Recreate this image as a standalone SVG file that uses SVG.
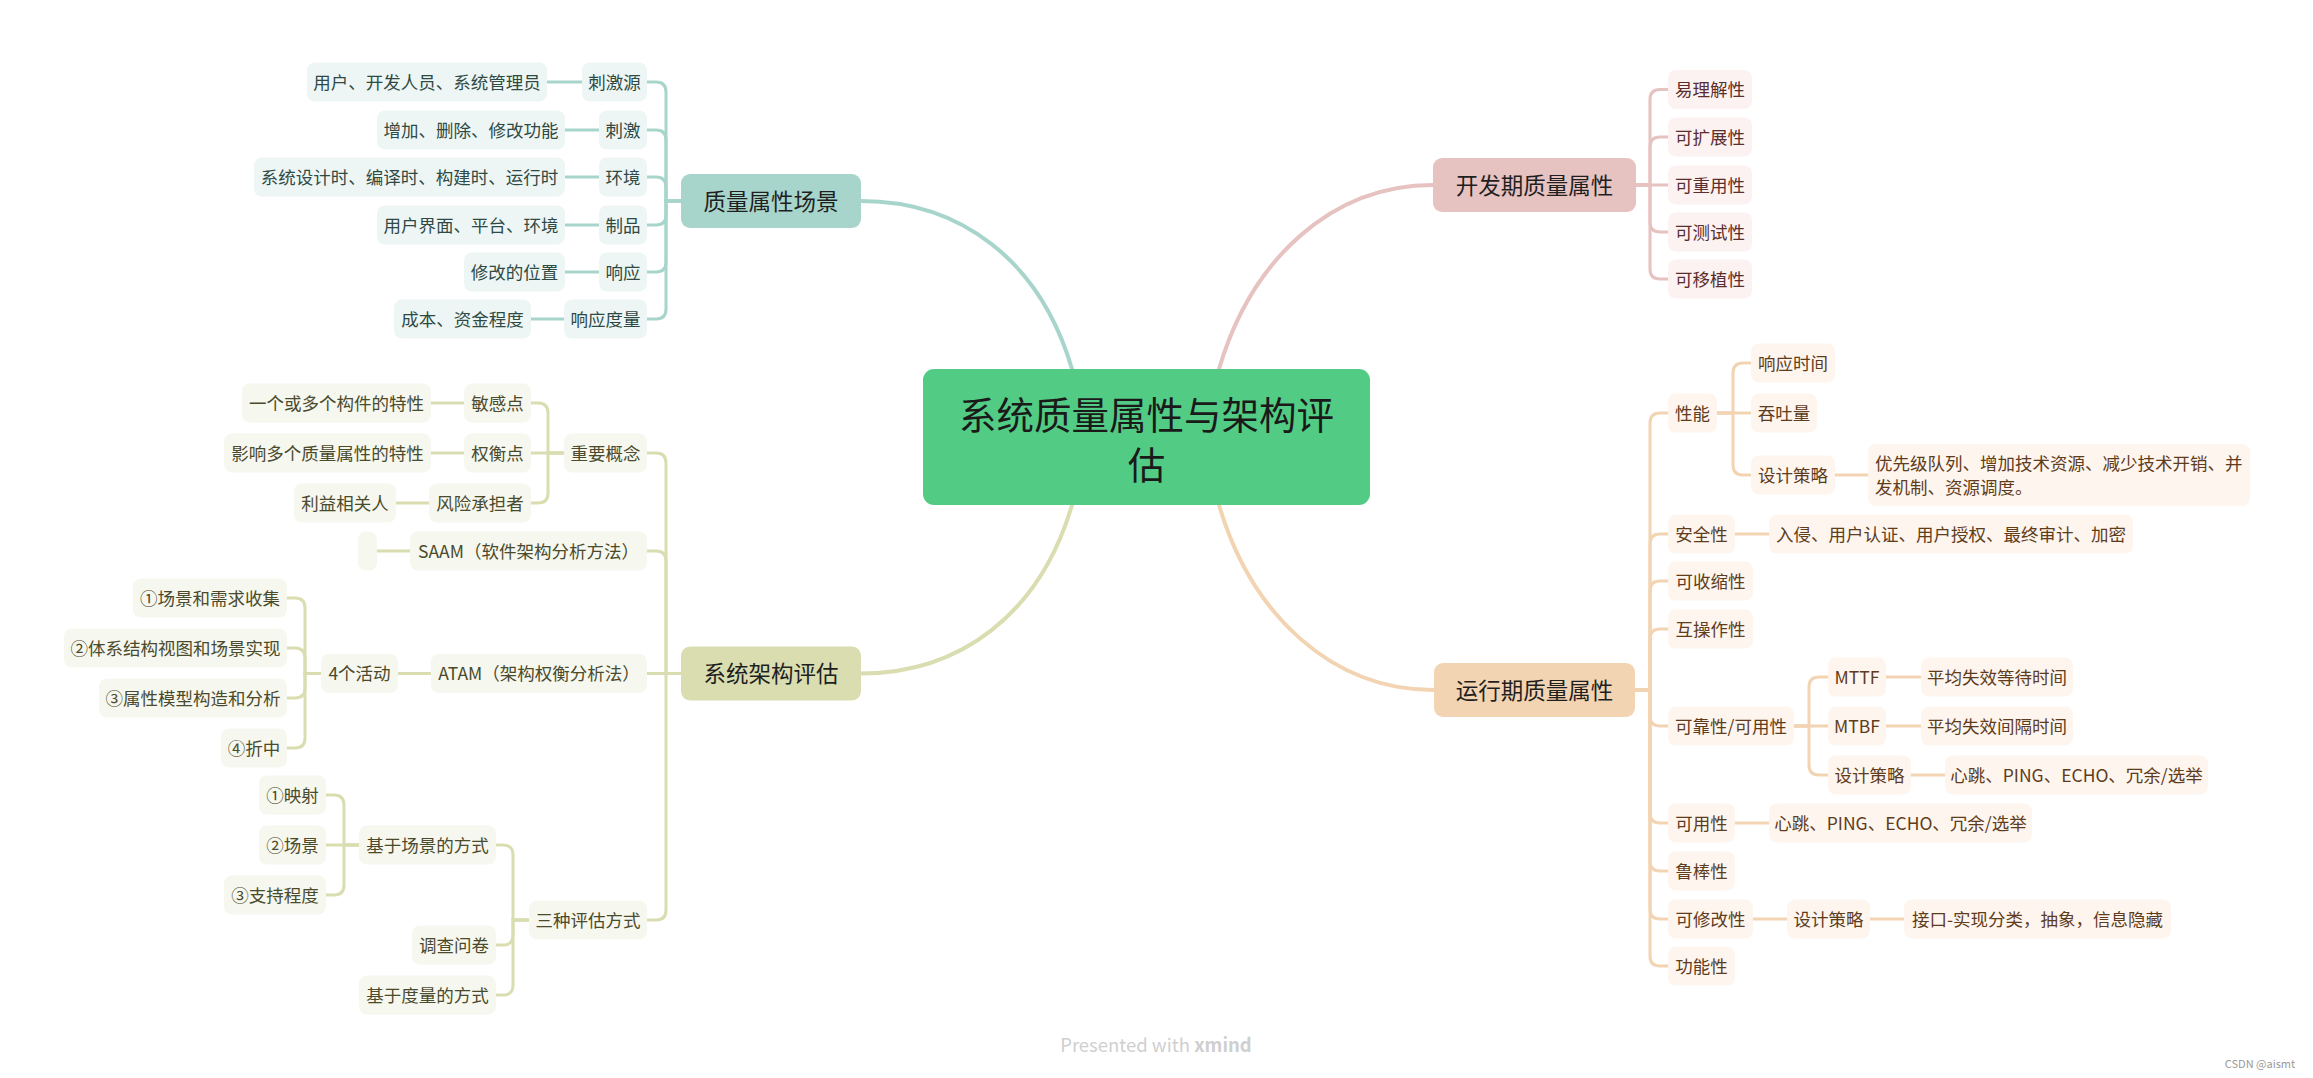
<svg xmlns="http://www.w3.org/2000/svg" width="2313" height="1078" viewBox="0 0 2313 1078">
<style>
text{font-family:"Noto Sans CJK SC","Noto Sans",sans-serif;}
.sub text{font-size:17.5px;text-anchor:middle}
.main text{font-size:22.5px;text-anchor:middle;fill:#1f1f1f}
.sub rect{rx:8px}
.main rect{rx:9px}
.teal.main rect{fill:#A8D5CB}.teal.sub rect{fill:#EDF6F4}.teal.sub text{fill:#2F4A44}
.olive.main rect{fill:#D9DDB0}.olive.sub rect{fill:#F6F7EE}.olive.sub text{fill:#4A4A2C}
.pink.main rect{fill:#E6C2C0}.pink.sub rect{fill:#FBF2F1}.pink.sub text{fill:#5B2E2E}
.orange.main rect{fill:#F2D4B2}.orange.sub rect{fill:#FDF5EE}.orange.sub text{fill:#5E3C1C}
#connectors path{fill:none;stroke-width:3;stroke-linecap:round}
#connectors .trunk{stroke-width:4}
.c-teal path{stroke:#A8D5CB}.c-olive path{stroke:#D9DDB0}.c-pink path{stroke:#E6C2C0}.c-orange path{stroke:#F2D4B2}
</style>
<rect width="2313" height="1078" fill="#ffffff"/>
<g id="connectors">
 <g class="c-teal">
  <path class="trunk" d="M1072,369 C1040,260 960,201 861,201"/>
  <path d="M681,201 H666 V92 Q666,82 656,82 H647"/>
  <path d="M681,201 H666 V140 Q666,130 656,130 H647"/>
  <path d="M681,201 H666 V187 Q666,177 656,177 H647"/>
  <path d="M681,201 H666 V215 Q666,225 656,225 H647"/>
  <path d="M681,201 H666 V262 Q666,272 656,272 H647"/>
  <path d="M681,201 H666 V309 Q666,319 656,319 H647"/>
  <path d="M582,82 H547"/><path d="M599,130 H565"/><path d="M599,177 H565"/>
  <path d="M599,225 H565"/><path d="M599,272 H565"/><path d="M564,319 H531"/>
 </g>
 <g class="c-olive">
  <path class="trunk" d="M1072,505 C1040,614 960,673.5 861,673.5"/>
  <path d="M681,673.5 H666 V463 Q666,453 656,453 H647"/>
  <path d="M681,673.5 H666 V561 Q666,551 656,551 H647"/>
  <path d="M681,673.5 H647"/>
  <path d="M681,673.5 H666 V910 Q666,920 656,920 H647"/>
  <path d="M564,453 H548 V413 Q548,403 538,403 H531"/>
  <path d="M564,453 H531"/>
  <path d="M564,453 H548 V493 Q548,503 538,503 H531"/>
  <path d="M464,403 H431"/><path d="M464,453 H431"/><path d="M429,503 H396"/>
  <path d="M410,551 H377"/><path d="M431,673.5 H398"/>
  <path d="M321,673.5 H305 V608 Q305,598 295,598 H287"/>
  <path d="M321,673.5 H305 V658 Q305,648 295,648 H287"/>
  <path d="M321,673.5 H305 V688 Q305,698 295,698 H287"/>
  <path d="M321,673.5 H305 V738 Q305,748 295,748 H287"/>
  <path d="M529,920 H513 V855 Q513,845 503,845 H496"/>
  <path d="M529,920 H513 V935 Q513,945 503,945 H496"/>
  <path d="M529,920 H513 V985 Q513,995 503,995 H496"/>
  <path d="M359,845 H344 V805 Q344,795 334,795 H326"/>
  <path d="M359,845 H326"/>
  <path d="M359,845 H344 V885 Q344,895 334,895 H326"/>
 </g>
 <g class="c-pink">
  <path class="trunk" d="M1219,369 C1251,260 1331,185 1433,185"/>
  <path d="M1636,185 H1650 V99.5 Q1650,89.5 1660,89.5 H1668"/>
  <path d="M1636,185 H1650 V147 Q1650,137 1660,137 H1668"/>
  <path d="M1636,185 H1668"/>
  <path d="M1636,185 H1650 V222 Q1650,232 1660,232 H1668"/>
  <path d="M1636,185 H1650 V269 Q1650,279 1660,279 H1668"/>
 </g>
 <g class="c-orange">
  <path class="trunk" d="M1219,505 C1251,614 1331,690 1434,690"/>
  <path d="M1635,690 H1650 V423 Q1650,413 1660,413 H1668"/>
  <path d="M1635,690 H1650 V544 Q1650,534 1660,534 H1668"/>
  <path d="M1635,690 H1650 V591 Q1650,581 1660,581 H1668"/>
  <path d="M1635,690 H1650 V639 Q1650,629 1660,629 H1668"/>
  <path d="M1635,690 H1650 V716 Q1650,726 1660,726 H1668"/>
  <path d="M1635,690 H1650 V813 Q1650,823 1660,823 H1668"/>
  <path d="M1635,690 H1650 V861 Q1650,871 1660,871 H1668"/>
  <path d="M1635,690 H1650 V909 Q1650,919 1660,919 H1668"/>
  <path d="M1635,690 H1650 V956 Q1650,966 1660,966 H1668"/>
  <path d="M1717,413 H1733 V373 Q1733,363 1743,363 H1751"/>
  <path d="M1717,413 H1751"/>
  <path d="M1717,413 H1733 V465 Q1733,475 1743,475 H1751"/>
  <path d="M1794,726 H1809 V687 Q1809,677 1819,677 H1828"/>
  <path d="M1794,726 H1828"/>
  <path d="M1794,726 H1809 V765 Q1809,775 1819,775 H1828"/>
  <path d="M1835,475 H1868"/><path d="M1735,534 H1769"/><path d="M1886,677 H1921"/>
  <path d="M1886,726 H1921"/><path d="M1911,775 H1945"/><path d="M1735,823 H1769"/>
  <path d="M1753,919 H1787"/><path d="M1870,919 H1904"/>
 </g>
</g>

<g id="central">
 <rect x="923" y="369" width="447" height="136" rx="11" fill="#52CC84"/>
 <text x="1146.5" y="429" font-size="37.5" text-anchor="middle" fill="#1a1a1a">系统质量属性与架构评</text>
 <text x="1146.5" y="479" font-size="37.5" text-anchor="middle" fill="#1a1a1a">估</text>
</g>

<!-- teal -->
<g id="n-zlsxcj" class="main teal"><rect x="681" y="174" width="180" height="54"/><text x="771" y="209.5">质量属性场景</text></g>
<g id="n-cjy" class="sub teal"><rect x="582" y="62.5" width="65" height="39"/><text x="614.5" y="88.5">刺激源</text></g>
<g id="n-cj" class="sub teal"><rect x="599" y="110.5" width="48" height="39"/><text x="623" y="136.5">刺激</text></g>
<g id="n-hj" class="sub teal"><rect x="599" y="157.5" width="48" height="39"/><text x="623" y="183.5">环境</text></g>
<g id="n-zp" class="sub teal"><rect x="599" y="205.5" width="48" height="39"/><text x="623" y="231.5">制品</text></g>
<g id="n-xy" class="sub teal"><rect x="599" y="252.5" width="48" height="39"/><text x="623" y="278.5">响应</text></g>
<g id="n-xydl" class="sub teal"><rect x="564" y="299.5" width="83" height="39"/><text x="605.5" y="325.5">响应度量</text></g>
<g id="n-cjy-1" class="sub teal"><rect x="307" y="62.5" width="240" height="39"/><text x="427" y="88.5">用户、开发人员、系统管理员</text></g>
<g id="n-cj-1" class="sub teal"><rect x="377" y="110.5" width="188" height="39"/><text x="471" y="136.5">增加、删除、修改功能</text></g>
<g id="n-hj-1" class="sub teal"><rect x="254" y="157.5" width="311" height="39"/><text x="409.5" y="183.5">系统设计时、编译时、构建时、运行时</text></g>
<g id="n-zp-1" class="sub teal"><rect x="377" y="205.5" width="188" height="39"/><text x="471" y="231.5">用户界面、平台、环境</text></g>
<g id="n-xy-1" class="sub teal"><rect x="464" y="252.5" width="101" height="39"/><text x="514.5" y="278.5">修改的位置</text></g>
<g id="n-xydl-1" class="sub teal"><rect x="394" y="299.5" width="137" height="39"/><text x="462.5" y="325.5">成本、资金程度</text></g>

<!-- olive -->
<g id="n-xtjgpg" class="main olive"><rect x="681" y="646.5" width="180" height="54"/><text x="771" y="682">系统架构评估</text></g>
<g id="n-zygn" class="sub olive"><rect x="564" y="433.5" width="83" height="39"/><text x="605.5" y="459.5">重要概念</text></g>
<g id="n-saam" class="sub olive"><rect x="410" y="531.5" width="237" height="39"/><text x="528.5" y="557.5">SAAM（软件架构分析方法）</text></g>
<g id="n-atam" class="sub olive"><rect x="431" y="654" width="216" height="39"/><text x="539" y="680">ATAM（架构权衡分析法）</text></g>
<g id="n-szpgfs" class="sub olive"><rect x="529" y="900.5" width="118" height="39"/><text x="588" y="926.5">三种评估方式</text></g>
<g id="n-mgd" class="sub olive"><rect x="464" y="383.5" width="67" height="39"/><text x="497.5" y="409.5">敏感点</text></g>
<g id="n-qhd" class="sub olive"><rect x="464" y="433.5" width="67" height="39"/><text x="497.5" y="459.5">权衡点</text></g>
<g id="n-fxcdz" class="sub olive"><rect x="429" y="483.5" width="102" height="39"/><text x="480" y="509.5">风险承担者</text></g>
<g id="n-mgd-1" class="sub olive"><rect x="242" y="383.5" width="189" height="39"/><text x="336.5" y="409.5">一个或多个构件的特性</text></g>
<g id="n-qhd-1" class="sub olive"><rect x="224" y="433.5" width="207" height="39"/><text x="327.5" y="459.5">影响多个质量属性的特性</text></g>
<g id="n-fxcdz-1" class="sub olive"><rect x="294" y="483.5" width="102" height="39"/><text x="345" y="509.5">利益相关人</text></g>
<g id="n-saam-1" class="sub olive"><rect x="358" y="531.5" width="19" height="39"/></g>
<g id="n-4gdh" class="sub olive"><rect x="321" y="654" width="77" height="39"/><text x="359.5" y="680">4个活动</text></g>
<g id="n-a1" class="sub olive"><rect x="133" y="578.5" width="154" height="39"/><text x="210" y="604.5">①场景和需求收集</text></g>
<g id="n-a2" class="sub olive"><rect x="64" y="628.5" width="223" height="39"/><text x="175.5" y="654.5">②体系结构视图和场景实现</text></g>
<g id="n-a3" class="sub olive"><rect x="99" y="678.5" width="188" height="39"/><text x="193" y="704.5">③属性模型构造和分析</text></g>
<g id="n-a4" class="sub olive"><rect x="221" y="728.5" width="66" height="39"/><text x="254" y="754.5">④折中</text></g>
<g id="n-jycj" class="sub olive"><rect x="359" y="825.5" width="137" height="39"/><text x="427.5" y="851.5">基于场景的方式</text></g>
<g id="n-dcwj" class="sub olive"><rect x="412" y="925.5" width="84" height="39"/><text x="454" y="951.5">调查问卷</text></g>
<g id="n-jydl" class="sub olive"><rect x="359" y="975.5" width="137" height="39"/><text x="427.5" y="1001.5">基于度量的方式</text></g>
<g id="n-b1" class="sub olive"><rect x="259" y="775.5" width="67" height="39"/><text x="292.5" y="801.5">①映射</text></g>
<g id="n-b2" class="sub olive"><rect x="259" y="825.5" width="67" height="39"/><text x="292.5" y="851.5">②场景</text></g>
<g id="n-b3" class="sub olive"><rect x="224" y="875.5" width="102" height="39"/><text x="275" y="901.5">③支持程度</text></g>

<!-- pink -->
<g id="n-kfq" class="main pink"><rect x="1433" y="158" width="203" height="54"/><text x="1534.5" y="193.5">开发期质量属性</text></g>
<g id="n-ylj" class="sub pink"><rect x="1668" y="70" width="84" height="39"/><text x="1710" y="96">易理解性</text></g>
<g id="n-kkz" class="sub pink"><rect x="1668" y="117.5" width="84" height="39"/><text x="1710" y="143.5">可扩展性</text></g>
<g id="n-kcy" class="sub pink"><rect x="1668" y="165.5" width="84" height="39"/><text x="1710" y="191.5">可重用性</text></g>
<g id="n-kcs" class="sub pink"><rect x="1668" y="212.5" width="84" height="39"/><text x="1710" y="238.5">可测试性</text></g>
<g id="n-kyz" class="sub pink"><rect x="1668" y="259.5" width="84" height="39"/><text x="1710" y="285.5">可移植性</text></g>

<!-- orange -->
<g id="n-yxq" class="main orange"><rect x="1434" y="663" width="201" height="54"/><text x="1534.5" y="698.5">运行期质量属性</text></g>
<g id="n-xn" class="sub orange"><rect x="1668" y="393.5" width="49" height="39"/><text x="1692.5" y="419.5">性能</text></g>
<g id="n-aqx" class="sub orange"><rect x="1668" y="514.5" width="67" height="39"/><text x="1701.5" y="540.5">安全性</text></g>
<g id="n-kss" class="sub orange"><rect x="1668" y="561.5" width="85" height="39"/><text x="1710.5" y="587.5">可收缩性</text></g>
<g id="n-hcz" class="sub orange"><rect x="1668" y="609.5" width="85" height="39"/><text x="1710.5" y="635.5">互操作性</text></g>
<g id="n-kkx" class="sub orange"><rect x="1668" y="706.5" width="126" height="39"/><text x="1731" y="732.5">可靠性/可用性</text></g>
<g id="n-kyx" class="sub orange"><rect x="1668" y="803.5" width="67" height="39"/><text x="1701.5" y="829.5">可用性</text></g>
<g id="n-lbx" class="sub orange"><rect x="1668" y="851.5" width="67" height="39"/><text x="1701.5" y="877.5">鲁棒性</text></g>
<g id="n-kxg" class="sub orange"><rect x="1668" y="899.5" width="85" height="39"/><text x="1710.5" y="925.5">可修改性</text></g>
<g id="n-gnx" class="sub orange"><rect x="1668" y="946.5" width="67" height="39"/><text x="1701.5" y="972.5">功能性</text></g>
<g id="n-xysj" class="sub orange"><rect x="1751" y="343.5" width="84" height="39"/><text x="1793" y="369.5">响应时间</text></g>
<g id="n-ttl" class="sub orange"><rect x="1751" y="393.5" width="66" height="39"/><text x="1784" y="419.5">吞吐量</text></g>
<g id="n-sjcl1" class="sub orange"><rect x="1751" y="455.5" width="84" height="39"/><text x="1793" y="481.5">设计策略</text></g>
<g id="n-sjcl1-1" class="sub orange"><rect x="1868" y="444" width="382" height="62"/><text x="1875" y="469.5" style="text-anchor:start">优先级队列、增加技术资源、减少技术开销、并</text><text x="1875" y="493.5" style="text-anchor:start">发机制、资源调度。</text></g>
<g id="n-aqx-1" class="sub orange"><rect x="1769" y="514.5" width="364" height="39"/><text x="1951" y="540.5">入侵、用户认证、用户授权、最终审计、加密</text></g>
<g id="n-mttf" class="sub orange"><rect x="1828" y="657.5" width="58" height="39"/><text x="1857" y="683.5">MTTF</text></g>
<g id="n-mttf-1" class="sub orange"><rect x="1921" y="657.5" width="152" height="39"/><text x="1997" y="683.5">平均失效等待时间</text></g>
<g id="n-mtbf" class="sub orange"><rect x="1828" y="706.5" width="58" height="39"/><text x="1857" y="732.5">MTBF</text></g>
<g id="n-mtbf-1" class="sub orange"><rect x="1921" y="706.5" width="152" height="39"/><text x="1997" y="732.5">平均失效间隔时间</text></g>
<g id="n-sjcl2" class="sub orange"><rect x="1828" y="755.5" width="83" height="39"/><text x="1869.5" y="781.5">设计策略</text></g>
<g id="n-sjcl2-1" class="sub orange"><rect x="1945" y="755.5" width="263" height="39"/><text x="2076.5" y="781.5">心跳、PING、ECHO、冗余/选举</text></g>
<g id="n-kyx-1" class="sub orange"><rect x="1769" y="803.5" width="263" height="39"/><text x="1900.5" y="829.5">心跳、PING、ECHO、冗余/选举</text></g>
<g id="n-sjcl3" class="sub orange"><rect x="1787" y="899.5" width="83" height="39"/><text x="1828.5" y="925.5">设计策略</text></g>
<g id="n-sjcl3-1" class="sub orange"><rect x="1904" y="899.5" width="267" height="39"/><text x="2037.5" y="925.5">接口-实现分类，抽象，信息隐藏</text></g>

<text x="1156" y="1052" font-family="'Open Sans','Noto Sans',sans-serif" font-size="18.5" text-anchor="middle" fill="#cfcfcf">Presented with <tspan font-weight="bold">xmind</tspan></text>
<text x="2260" y="1068" font-family="'Liberation Sans',Arial,sans-serif" font-size="11" text-anchor="middle" fill="#9a9a9a">CSDN @aismt</text>
</svg>
